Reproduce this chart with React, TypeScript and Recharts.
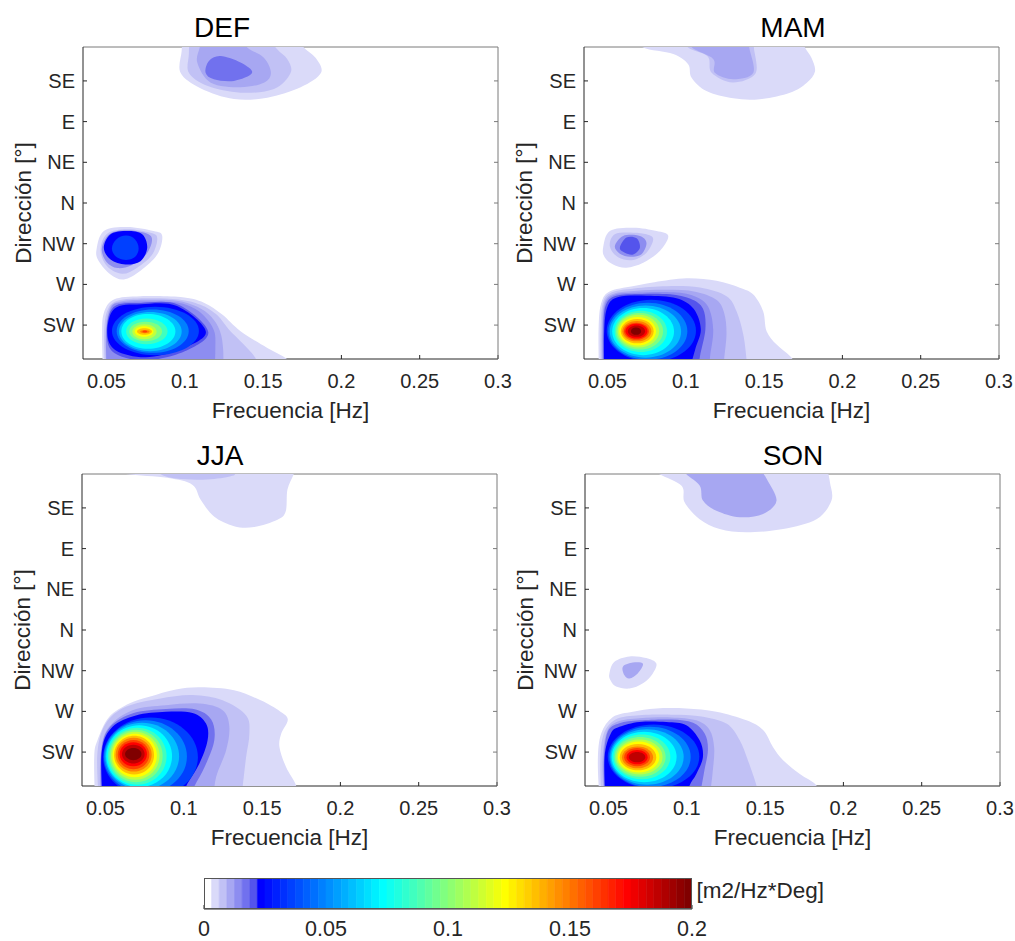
import React from 'react';
import { ComposedChart, Scatter, XAxis, YAxis } from 'recharts';

// axes
const freqTicks = [0.05, 0.1, 0.15, 0.2, 0.25, 0.3];
const dirTicks = [225, 270, 315, 360, 405, 450, 495];
const dirLabels = ['SW', 'W', 'NW', 'N', 'NE', 'E', 'SE'];
const colorbarTicks = [0, 0.05, 0.1, 0.15, 0.2];

// contour bands: z = density of the band [m2/Hz*Deg], p = outline as [freq Hz, direction deg]
const defSE = [
  { z: 0.004, p: [[0.0985, 565], [0.0985, 545], [0.098, 528], [0.0973, 504], [0.11, 487], [0.1314, 475], [0.1527, 476.5], [0.174, 488], [0.187, 504], [0.1835, 520.5], [0.176, 532], [0.172, 545], [0.172, 565]] },
  { z: 0.007, p: [[0.103, 565], [0.103, 545], [0.1026, 525], [0.1026, 504], [0.1143, 489.6], [0.1356, 482], [0.157, 486], [0.1676, 504], [0.1655, 519], [0.159, 530], [0.153, 545], [0.153, 565]] },
  { z: 0.011, p: [[0.111, 565], [0.111, 545], [0.1095, 532], [0.108, 515], [0.1166, 493], [0.1356, 488], [0.1505, 493], [0.155, 504], [0.1505, 520.6], [0.1399, 532], [0.135, 545], [0.135, 565]] },
  { z: 0.017, p: [[0.1133, 504], [0.1186, 496.8], [0.1314, 495], [0.143, 504], [0.1356, 515.3], [0.1228, 522.5], [0.1154, 517]] },
];
const defNW = [
  { z: 0.004, p: [[0.0436, 308], [0.0483, 329], [0.0632, 333.5], [0.08, 329], [0.0856, 323.5], [0.0824, 303], [0.0717, 285], [0.0611, 275.4], [0.0526, 281], [0.0451, 295.6]] },
  { z: 0.007, p: [[0.0462, 308], [0.0504, 326], [0.0632, 331], [0.0781, 327], [0.0824, 321], [0.0792, 303], [0.0696, 288.5], [0.06, 281.7], [0.0504, 290]] },
  { z: 0.014, p: [[0.047, 309.6], [0.052, 325.8], [0.0632, 329.9], [0.0765, 325.8], [0.079, 317.3], [0.075, 302.4], [0.066, 291.2], [0.057, 288], [0.05, 294.8]] },
  { z: 0.023, p: [[0.0483, 310.5], [0.0526, 325.4], [0.0632, 329], [0.0728, 325.4], [0.076, 310.5], [0.0717, 295.7], [0.0621, 292], [0.0526, 297.5]] },
  { z: 0.035, p: [[0.0535, 309.6], [0.0625, 324], [0.0705, 309.6], [0.0625, 297]] },
];
const defSW = [
  { z: 0.004, p: [[0.0477, 150], [0.0477, 171], [0.0472, 214.7], [0.0483, 238.5], [0.0547, 253.4], [0.0717, 257], [0.0973, 256], [0.1122, 249.8], [0.1239, 236.7], [0.1356, 218.3], [0.1527, 199.8], [0.1655, 187.2], [0.172, 171], [0.175, 150]] },
  { z: 0.007, p: [[0.049, 150], [0.049, 171], [0.0485, 216], [0.0505, 240.8], [0.057, 252], [0.075, 254.7], [0.096, 253.4], [0.11, 247.5], [0.1205, 236.3], [0.128, 220.5], [0.1395, 200.3], [0.1455, 187.2], [0.147, 171], [0.148, 150]] },
  { z: 0.011, p: [[0.05, 150], [0.05, 171], [0.0495, 216], [0.052, 243], [0.059, 251], [0.077, 252.9], [0.095, 252], [0.108, 245.3], [0.117, 234], [0.1225, 218.3], [0.1245, 198], [0.1245, 171], [0.1245, 150]] },
  { z: 0.014, p: [[0.0502, 150], [0.0502, 171], [0.0498, 216], [0.053, 244.5], [0.06, 250], [0.077, 251], [0.095, 250], [0.1065, 243], [0.1145, 231], [0.119, 217], [0.1195, 198], [0.119, 171], [0.119, 150]] },
  { z: 0.02, p: [[0.0502, 216], [0.0545, 245], [0.072, 249.5], [0.096, 247.5], [0.115, 217.4], [0.1, 196], [0.075, 186], [0.055, 194]] },
  { z: 0.023, p: [[0.0505, 216], [0.055, 243], [0.072, 248], [0.095, 246], [0.1135, 217.4], [0.097, 198], [0.075, 189.5], [0.056, 197]] },
];
const defCore = [
  { z: 0.035, p: [[0.0535, 218.5], [0.081, 245.3], [0.109, 218.5], [0.081, 191.7]] },
  { z: 0.048, p: [[0.0565, 218.3], [0.0795, 242.1], [0.1025, 218.3], [0.0795, 194.4]] },
  { z: 0.06, p: [[0.058, 217.8], [0.078, 239.4], [0.098, 217.8], [0.078, 196.2]] },
  { z: 0.073, p: [[0.0595, 218], [0.0765, 237.2], [0.094, 218], [0.0765, 198.9]] },
  { z: 0.085, p: [[0.0625, 218], [0.0755, 232.2], [0.089, 218], [0.0755, 203.9]] },
  { z: 0.098, p: [[0.0645, 217.8], [0.075, 228.6], [0.0855, 217.8], [0.075, 207]] },
  { z: 0.11, p: [[0.0665, 217.6], [0.0742, 225.9], [0.082, 217.6], [0.0742, 209.3]] },
  { z: 0.123, p: [[0.068, 217.8], [0.074, 223.7], [0.08, 217.8], [0.074, 212]] },
  { z: 0.135, p: [[0.0695, 217.8], [0.0742, 221.4], [0.079, 217.8], [0.0742, 214.2]] },
  { z: 0.148, p: [[0.0715, 217.8], [0.0745, 219.6], [0.0775, 217.8], [0.0745, 216]] },
  { z: 0.16, p: [[0.073, 217.8], [0.0745, 218.9], [0.076, 217.8], [0.0745, 216.7]] },
];

const mamSE = [
  { z: 0.004, p: [[0.07, 565], [0.07, 545], [0.0728, 531.9], [0.092, 524.7], [0.1015, 513.5], [0.1037, 498.6], [0.1132, 483.8], [0.1303, 475.7], [0.1473, 474.8], [0.1665, 482], [0.1771, 492.8], [0.1825, 505.4], [0.1803, 520.2], [0.1761, 531.9], [0.1729, 545], [0.1729, 565]] },
  { z: 0.007, p: [[0.1, 565], [0.1, 545], [0.1015, 531.9], [0.114, 522], [0.1165, 504], [0.13, 493.2], [0.1445, 503.1], [0.1435, 531.9], [0.1435, 545], [0.1435, 565]] },
  { z: 0.011, p: [[0.1025, 565], [0.1025, 545], [0.104, 531.9], [0.1175, 519.3], [0.1186, 504], [0.1303, 496.8], [0.1431, 504], [0.1405, 531.9], [0.14, 545], [0.14, 565]] },
];
const mamNW = [
  { z: 0.004, p: [[0.0472, 310.5], [0.0515, 329], [0.0664, 332.6], [0.0813, 329], [0.0888, 323.6], [0.0834, 306.9], [0.0728, 293.9], [0.0621, 288.5], [0.0536, 292], [0.0483, 299.7]] },
  { z: 0.007, p: [[0.0515, 312.3], [0.0547, 325.4], [0.0664, 327.2], [0.0749, 325.4], [0.0792, 320], [0.0749, 305.1], [0.0664, 297], [0.0568, 300]] },
  { z: 0.014, p: [[0.0547, 312.3], [0.06, 323.6], [0.0707, 323.6], [0.0749, 315.9], [0.0717, 303.3], [0.0643, 300.5], [0.0579, 304]] },
  { z: 0.02, p: [[0.0579, 310.5], [0.0621, 321.8], [0.0686, 320.9], [0.0707, 310.5], [0.0664, 303], [0.0611, 305]] },
];
const mamSW = [
  { z: 0.004, p: [[0.0445, 150], [0.0445, 171], [0.0443, 220], [0.0458, 248], [0.051, 262], [0.066, 268], [0.08, 272.5], [0.1005, 276.8], [0.1196, 274], [0.1345, 266.4], [0.1431, 258.8], [0.1494, 240.3], [0.1516, 218.3], [0.158, 203.4], [0.1665, 190.8], [0.1707, 181.4], [0.175, 171], [0.175, 150]] },
  { z: 0.007, p: [[0.0458, 150], [0.0458, 171], [0.0456, 218], [0.047, 249], [0.0525, 261], [0.067, 265.5], [0.088, 268], [0.109, 266.5], [0.126, 257], [0.1324, 240.3], [0.1367, 214.7], [0.1388, 187.2], [0.1395, 171], [0.1395, 150]] },
  { z: 0.011, p: [[0.0466, 150], [0.0466, 171], [0.0464, 218], [0.0478, 248.5], [0.0535, 259.5], [0.069, 263], [0.088, 264], [0.106, 262], [0.1195, 253], [0.1245, 238.5], [0.126, 216], [0.1245, 187.2], [0.124, 171], [0.124, 150]] },
  { z: 0.014, p: [[0.0471, 150], [0.0471, 171], [0.047, 218], [0.0483, 247.5], [0.0545, 258.5], [0.07, 261], [0.088, 261.5], [0.104, 258], [0.114, 246], [0.1175, 220], [0.1155, 190], [0.1145, 171], [0.1145, 150]] },
  { z: 0.02, p: [[0.0475, 150], [0.0475, 171], [0.0474, 218], [0.0488, 246.5], [0.0555, 257.5], [0.072, 259.5], [0.09, 259], [0.103, 254], [0.111, 243], [0.1125, 220], [0.109, 190], [0.108, 171], [0.108, 150]] },
  { z: 0.023, p: [[0.0479, 150], [0.0479, 171], [0.0479, 218.3], [0.05, 245.3], [0.057, 256], [0.075, 257.4], [0.094, 254.7], [0.105, 243], [0.1096, 220.5], [0.106, 198], [0.102, 171], [0.102, 150]] },
];
const mamCore = [
  { z: 0.035, p: [[0.0495, 218.7], [0.078, 252.9], [0.1065, 218.7], [0.078, 184.5]] },
  { z: 0.048, p: [[0.0505, 218.3], [0.0758, 249.8], [0.101, 218.3], [0.0758, 186.8]] },
  { z: 0.06, p: [[0.0515, 217.8], [0.0743, 246.6], [0.097, 217.8], [0.0743, 189]] },
  { z: 0.073, p: [[0.053, 217.8], [0.0728, 243.9], [0.0925, 217.8], [0.0728, 191.7]] },
  { z: 0.085, p: [[0.0545, 218], [0.0713, 240.8], [0.088, 218], [0.0713, 195.3]] },
  { z: 0.098, p: [[0.0555, 218.3], [0.0705, 238.5], [0.0855, 218.3], [0.0705, 198]] },
  { z: 0.11, p: [[0.0565, 218.3], [0.0698, 236.3], [0.083, 218.3], [0.0698, 200.3]] },
  { z: 0.123, p: [[0.0575, 218.3], [0.0693, 234], [0.081, 218.3], [0.0693, 202.5]] },
  { z: 0.135, p: [[0.0585, 218.3], [0.069, 231.8], [0.0795, 218.3], [0.069, 204.8]] },
  { z: 0.148, p: [[0.0595, 218.3], [0.0688, 229.5], [0.078, 218.3], [0.0688, 207]] },
  { z: 0.16, p: [[0.0605, 218.3], [0.0685, 227.7], [0.0765, 218.3], [0.0685, 208.8]] },
  { z: 0.173, p: [[0.0615, 218.3], [0.0685, 226.4], [0.0755, 218.3], [0.0685, 210.2]] },
  { z: 0.185, p: [[0.063, 218.3], [0.0685, 224.6], [0.074, 218.3], [0.0685, 212]] },
  { z: 0.198, p: [[0.065, 218.3], [0.0683, 222.3], [0.0715, 218.3], [0.0683, 214.2]] },
];

const jjaSE = [
  { z: 0.004, p: [[0.058, 565], [0.058, 545], [0.0596, 533.7], [0.0894, 528.3], [0.1054, 520.7], [0.1108, 504], [0.1193, 485.6], [0.1321, 474.8], [0.1449, 473.9], [0.1598, 482], [0.1651, 491.4], [0.1662, 515.3], [0.1705, 533.7], [0.172, 545], [0.172, 565]] },
  { z: 0.007, p: [[0.083, 565], [0.083, 545], [0.084, 533.7], [0.095, 527.4], [0.115, 526.5], [0.13, 530.1], [0.133, 533.7], [0.134, 545], [0.134, 565]] },
];
const jjaSW = [
  { z: 0.004, p: [[0.0432, 150], [0.0432, 171.5], [0.0428, 219.6], [0.0449, 238], [0.0523, 263.7], [0.0651, 278.6], [0.078, 286.2], [0.095, 294.3], [0.1108, 296.6], [0.1321, 293.4], [0.1491, 282.2], [0.1615, 270], [0.1664, 261], [0.1622, 245.3], [0.1611, 230.4], [0.1653, 208.4], [0.1717, 188.1], [0.173, 171.5], [0.173, 150]] },
  { z: 0.007, p: [[0.0455, 150], [0.0455, 171.5], [0.0449, 225], [0.0502, 256.5], [0.063, 275], [0.0843, 284], [0.1056, 288], [0.1248, 282.2], [0.1398, 265.5], [0.1419, 245.3], [0.1398, 219.6], [0.1376, 186.8], [0.1365, 171.5], [0.1365, 150]] },
  { z: 0.011, p: [[0.0465, 150], [0.0465, 171.5], [0.047, 225], [0.0523, 252.9], [0.0673, 271.4], [0.0886, 276.8], [0.11, 278.6], [0.1248, 271.4], [0.1291, 252.9], [0.127, 226.8], [0.1206, 197.1], [0.119, 171.5], [0.119, 150]] },
  { z: 0.017, p: [[0.0473, 150], [0.0473, 171.5], [0.0474, 225.9], [0.053, 252.9], [0.068, 268.2], [0.0886, 272.7], [0.107, 272.3], [0.1175, 261], [0.1195, 238.5], [0.1135, 209.3], [0.106, 184.5], [0.104, 171.5], [0.104, 150]] },
  { z: 0.023, p: [[0.048, 150], [0.048, 171.5], [0.0477, 226.8], [0.0545, 252.9], [0.0694, 265.5], [0.0886, 269.6], [0.1056, 268.2], [0.1142, 256.5], [0.1152, 238], [0.1099, 212], [0.1014, 186.8], [0.099, 171.5], [0.099, 150]] },
];
const jjaCore = [
  { z: 0.035, p: [[0.0485, 219.4], [0.0788, 263.3], [0.109, 219.4], [0.0788, 175.5]] },
  { z: 0.048, p: [[0.049, 220], [0.0755, 260.1], [0.102, 220], [0.0755, 180]] },
  { z: 0.06, p: [[0.0498, 220.5], [0.0734, 257.4], [0.097, 220.5], [0.0734, 183.6]] },
  { z: 0.073, p: [[0.0505, 220.5], [0.0715, 254.7], [0.0925, 220.5], [0.0715, 186.3]] },
  { z: 0.085, p: [[0.0515, 220.5], [0.0703, 252], [0.089, 220.5], [0.0703, 189]] },
  { z: 0.098, p: [[0.0525, 220.7], [0.0695, 249.8], [0.0865, 220.7], [0.0695, 191.7]] },
  { z: 0.11, p: [[0.0535, 221], [0.069, 247.5], [0.0845, 221], [0.069, 194.4]] },
  { z: 0.123, p: [[0.0545, 221.2], [0.0687, 245.3], [0.0828, 221.2], [0.0687, 197.1]] },
  { z: 0.135, p: [[0.0555, 221.6], [0.0683, 243], [0.081, 221.6], [0.0683, 200.3]] },
  { z: 0.148, p: [[0.0565, 222.1], [0.068, 240.8], [0.0795, 222.1], [0.068, 203.4]] },
  { z: 0.16, p: [[0.0578, 222.3], [0.0679, 238.5], [0.078, 222.3], [0.0679, 206.1]] },
  { z: 0.173, p: [[0.059, 222.5], [0.0678, 235.8], [0.0765, 222.5], [0.0678, 209.3]] },
  { z: 0.185, p: [[0.0605, 222.8], [0.0678, 233.1], [0.075, 222.8], [0.0678, 212.4]] },
  { z: 0.198, p: [[0.0625, 222.8], [0.0678, 229.5], [0.073, 222.8], [0.0678, 216]] },
];

const sonSE = [
  { z: 0.004, p: [[0.078, 565], [0.078, 549], [0.0805, 534.6], [0.0965, 519.8], [0.0986, 501.3], [0.1082, 482.4], [0.121, 471.6], [0.1381, 468], [0.1615, 471.6], [0.1828, 482.4], [0.1924, 503.1], [0.1914, 523.4], [0.1903, 534.6], [0.19, 549], [0.19, 565]] },
  { z: 0.011, p: [[0.098, 565], [0.098, 549], [0.0986, 534.6], [0.1082, 519.8], [0.1103, 503.1], [0.1189, 491.9], [0.1338, 484.7], [0.1487, 488.3], [0.1573, 503.1], [0.1509, 527.4], [0.1487, 534.6], [0.148, 549], [0.148, 565]] },
];
const sonNW = [
  { z: 0.004, p: [[0.0506, 312.3], [0.0538, 324.9], [0.0634, 330.8], [0.0741, 329], [0.0805, 323.1], [0.0784, 312.3], [0.072, 301], [0.0634, 295.2], [0.0549, 297.5], [0.0511, 305.1]] },
  { z: 0.011, p: [[0.0592, 319.5], [0.0656, 324], [0.072, 322.7], [0.0688, 312.3], [0.0634, 306.5], [0.0602, 310.1]] },
];
const sonSW = [
  { z: 0.004, p: [[0.0442, 150], [0.0442, 171], [0.0432, 216], [0.0453, 245.3], [0.0528, 263.7], [0.0656, 269.6], [0.0805, 273.2], [0.0997, 273.2], [0.1189, 269.6], [0.1381, 260.1], [0.1487, 249.3], [0.1551, 230.4], [0.1615, 216], [0.1722, 200.7], [0.1828, 188.1], [0.186, 171], [0.186, 150]] },
  { z: 0.007, p: [[0.0455, 150], [0.0455, 171], [0.0448, 216], [0.047, 245.3], [0.0545, 261], [0.0677, 265.5], [0.09, 266.4], [0.1082, 264.6], [0.1253, 256.5], [0.1338, 238], [0.139, 216], [0.1445, 188.1], [0.146, 171], [0.146, 150]] },
  { z: 0.011, p: [[0.047, 150], [0.047, 171], [0.0462, 216], [0.049, 247.5], [0.056, 258.8], [0.07, 262.4], [0.09, 263.3], [0.106, 260.1], [0.1145, 249.8], [0.1175, 229.5], [0.1165, 202.5], [0.1145, 171], [0.1145, 150]] },
  { z: 0.017, p: [[0.0475, 150], [0.0475, 171], [0.047, 216], [0.0495, 247.5], [0.057, 257], [0.07, 260.1], [0.09, 261], [0.104, 257.4], [0.1115, 245.3], [0.1135, 227.3], [0.111, 202.5], [0.108, 171], [0.108, 150]] },
  { z: 0.023, p: [[0.048, 150], [0.048, 171], [0.0475, 219.6], [0.0514, 245.3], [0.057, 252.9], [0.0698, 258.3], [0.0869, 258.3], [0.0997, 254.7], [0.1082, 238], [0.1103, 219.6], [0.1061, 200.7], [0.1018, 188.1], [0.1, 171], [0.1, 150]] },
];
const sonCore = [
  { z: 0.035, p: [[0.0495, 220], [0.0788, 255.6], [0.108, 220], [0.0788, 184.5]] },
  { z: 0.048, p: [[0.0505, 219.6], [0.0765, 252.9], [0.1025, 219.6], [0.0765, 186.3]] },
  { z: 0.06, p: [[0.0512, 219.6], [0.0746, 250.2], [0.098, 219.6], [0.0746, 189]] },
  { z: 0.073, p: [[0.052, 219.6], [0.0728, 247.5], [0.0935, 219.6], [0.0728, 191.7]] },
  { z: 0.085, p: [[0.053, 219.6], [0.0713, 244.4], [0.0895, 219.6], [0.0713, 194.9]] },
  { z: 0.098, p: [[0.054, 219.6], [0.0703, 241.7], [0.0865, 219.6], [0.0703, 197.6]] },
  { z: 0.11, p: [[0.055, 219.6], [0.0698, 239], [0.0845, 219.6], [0.0698, 200.3]] },
  { z: 0.123, p: [[0.056, 219.6], [0.0693, 236.7], [0.0825, 219.6], [0.0693, 202.5]] },
  { z: 0.135, p: [[0.0572, 219.4], [0.0689, 234], [0.0805, 219.4], [0.0689, 204.8]] },
  { z: 0.148, p: [[0.0586, 219.2], [0.0686, 231.3], [0.0785, 219.2], [0.0686, 207]] },
  { z: 0.16, p: [[0.06, 219.4], [0.0683, 229.5], [0.0765, 219.4], [0.0683, 209.3]] },
  { z: 0.173, p: [[0.0615, 219.4], [0.0683, 227.3], [0.075, 219.4], [0.0683, 211.5]] },
  { z: 0.185, p: [[0.063, 219.4], [0.0683, 225], [0.0735, 219.4], [0.0683, 213.8]] },
];

const FONT = "'Liberation Sans', Arial, Helvetica, sans-serif";
const axisColor = '#262626';
const boxColor = '#7a7a7a';
const freqDomain = [0.035, 0.3];
const dirDomain = [187.5, 532.5];

// white-to-lavender start, then jet(64) from entry 8 on
const lavender = ['#ffffff', '#dadaf9', '#c1c1f5', '#a7a7f2', '#8d8df0', '#7171ee', '#5454ec'];
const ramp = (i) => (i < 1 || i > 47 ? 0 : i <= 16 ? i / 16 : i <= 31 ? 1 : (48 - i) / 16);
const hex = (v) => Math.round(v * 255).toString(16).padStart(2, '0');
const CMAP_STEP = 0.2 / 64;
const cmap = (z) => {
  const k = Math.min(64, Math.floor(z / CMAP_STEP) + 1);
  if (k <= 7) return lavender[k - 1];
  return `#${hex(ramp(k - 24))}${hex(ramp(k - 8))}${hex(ramp(k + 8))}`;
};
const colorbarSteps = Array.from({ length: 64 }, (_, i) => i);

// closed Catmull-Rom through the outline points (pixel coords from the scatter)
const smoothPath = (pts) => {
  const n = pts.length;
  const k = n === 4 ? 0.276 : 1 / 6;
  let d = `M${pts[0].x},${pts[0].y}`;
  for (let i = 0; i < n; i++) {
    const p0 = pts[(i - 1 + n) % n];
    const p1 = pts[i];
    const p2 = pts[(i + 1) % n];
    const p3 = pts[(i + 2) % n];
    const c1x = p1.x + (p2.x - p0.x) * k;
    const c1y = p1.y + (p2.y - p0.y) * k;
    const c2x = p2.x - (p3.x - p1.x) * k;
    const c2y = p2.y - (p3.y - p1.y) * k;
    d += `C${c1x},${c1y},${c2x},${c2y},${p2.x},${p2.y}`;
  }
  return d + 'Z';
};
const polyPath = (pts) => 'M' + pts.map((p) => `${p.x},${p.y}`).join('L') + 'Z';

const contourFill = (color) => (props) => <path d={smoothPath(props.points)} fill={color} stroke="none" />;
const swatchFill = (color) => (props) => (
  <path d={polyPath(props.points)} fill={color} stroke={color} strokeWidth={0.6} />
);
const noMarker = () => <g />;

const panels = [
  { title: 'DEF', levels: [...defSE, ...defNW, ...defSW, ...defCore], left: 0, top: 36, titleX: 222, titleY: 36.7, plotX: 83, plotY: 47 },
  { title: 'MAM', levels: [...mamSE, ...mamNW, ...mamSW, ...mamCore], left: 501, top: 36, titleX: 793, titleY: 36.7, plotX: 584, plotY: 47 },
  { title: 'JJA', levels: [...jjaSE, ...jjaSW, ...jjaCore], left: -1, top: 463, titleX: 220, titleY: 465, plotX: 82, plotY: 474 },
  { title: 'SON', levels: [...sonSE, ...sonNW, ...sonSW, ...sonCore], left: 502, top: 463, titleX: 793, titleY: 465, plotX: 585, plotY: 474 },
];

const Panel = ({ levels, left, top }) => (
  <div style={{ position: 'absolute', left, top }}>
    <ComposedChart width={514} height={383} margin={{ top: 10, right: 15, bottom: 0, left: 0 }}>
      <XAxis type="number" dataKey="f" domain={freqDomain} ticks={freqTicks} allowDataOverflow interval={0}
        height={60} tickSize={-4} tickMargin={18.5} stroke={axisColor}
        tick={{ fontSize: 20, fill: axisColor }} />
      <XAxis xAxisId="top" orientation="top" type="number" domain={freqDomain} ticks={freqTicks} allowDataOverflow
        interval={0} height={1} tickSize={-4} tickFormatter={() => ''} stroke={boxColor} />
      <YAxis type="number" dataKey="d" domain={dirDomain} ticks={dirTicks} allowDataOverflow interval={0}
        width={83} tickSize={-4} tickMargin={12} stroke={axisColor}
        tickFormatter={(v) => dirLabels[dirTicks.indexOf(v)] || ''}
        tick={{ fontSize: 20, fill: axisColor }} />
      <YAxis yAxisId="right" orientation="right" type="number" domain={dirDomain} ticks={dirTicks} allowDataOverflow
        interval={0} width={1} tickSize={-4} tickFormatter={() => ''} stroke={boxColor} />
      {levels.map((lvl, i) => (
        <Scatter key={i} data={lvl.p.map(([f, d]) => ({ f, d }))} line={contourFill(cmap(lvl.z))}
          shape={noMarker} isAnimationActive={false} legendType="none" />
      ))}
    </ComposedChart>
  </div>
);

const Colorbar = () => (
  <div style={{ position: 'absolute', left: 194, top: 878 }}>
    <ComposedChart width={538} height={63} margin={{ top: 0, right: 40, bottom: 0, left: 10 }}>
      <XAxis type="number" dataKey="z" domain={[0, 0.2]} ticks={colorbarTicks} allowDataOverflow interval={0}
        height={32} tickSize={-4} tickMargin={16} stroke={axisColor} tick={{ fontSize: 21.5, fill: axisColor }} />
      <YAxis type="number" dataKey="y" domain={[0, 1]} allowDataOverflow hide />
      {colorbarSteps.map((i) => {
        const lo = i * CMAP_STEP;
        const hi = (i + 1) * CMAP_STEP;
        const pts = [{ z: lo, y: 0 }, { z: hi, y: 0 }, { z: hi, y: 1 }, { z: lo, y: 1 }];
        return (
          <Scatter key={i} data={pts} line={swatchFill(cmap(lo + CMAP_STEP / 2))} shape={noMarker}
            isAnimationActive={false} legendType="none" />
        );
      })}
    </ComposedChart>
  </div>
);

export default function App() {
  return (
    <div style={{ position: 'absolute', left: 0, top: 0, width: 1015, height: 941, overflow: 'hidden',
      background: '#fff', fontFamily: FONT }}>
      {panels.map((p) => (
        <Panel key={p.title} levels={p.levels} left={p.left} top={p.top} />
      ))}
      <Colorbar />
      <svg width={1015} height={941} style={{ position: 'absolute', left: 0, top: 0, pointerEvents: 'none' }}>
        {panels.map((p) => (
          <g key={p.title}>
            <text x={p.titleX} y={p.titleY} fontSize={28} textAnchor="middle" fill="#000">{p.title}</text>
            <text x={p.plotX + 207.5} y={p.plotY + 370.5} fontSize={22.5} textAnchor="middle" fill={axisColor}>
              Frecuencia [Hz]
            </text>
            <text transform={`translate(${p.plotX - 52}, ${p.plotY + 156}) rotate(-90)`} fontSize={22.5}
              textAnchor="middle" fill={axisColor}>
              Dirección [°]
            </text>
          </g>
        ))}
        <rect x={204.5} y={878.5} width={487} height={30} fill="none" stroke="#555" strokeWidth={1} />
        <text x={696.5} y={897.5} fontSize={22.5} fill={axisColor}>[m2/Hz*Deg]</text>
      </svg>
    </div>
  );
}
